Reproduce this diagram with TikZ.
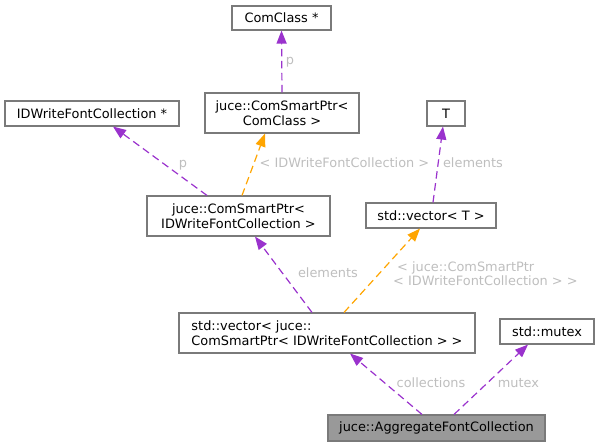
\documentclass[tikz,border=0pt]{standalone}
\usepackage{fontspec}
\setmainfont{DejaVu Sans}
\usetikzlibrary{arrows.meta}
\definecolor{edgepurple}{HTML}{9A32CD}
\definecolor{edgeorange}{HTML}{FFA500}
\definecolor{lblgray}{HTML}{BEBEBE}
\definecolor{boxborder}{HTML}{7A7A7A}
\definecolor{mainfill}{HTML}{999999}
\begin{document}
\begin{tikzpicture}[x=1pt,y=-1pt,
  box/.style={draw=boxborder, fill=white, line width=1.1pt, inner sep=0pt, font=\fontsize{12.9}{14.5}\selectfont, align=center},
  mainbox/.style={box, fill=mainfill},
  rel/.style={draw=edgepurple, dash pattern=on 7.5pt off 4.5pt, line width=1.2pt, -{Triangle[length=13pt,width=10pt]}},
  tmpl/.style={rel, draw=edgeorange},
  lbl/.style={text=lblgray, font=\fontsize{12.9}{14}\selectfont, inner sep=0pt, align=left}]
\useasboundingbox (0,0) rectangle (597,447);
\node[box, minimum width=99pt, minimum height=24pt] (comclass) at (281.5,18) {ComClass *};
\node[box, minimum width=154pt, minimum height=40pt] (cscp) at (282,113) {juce::ComSmartPtr<\\ComClass >};
\node[box, minimum width=174pt, minimum height=25pt] (idw) at (92,113.5) {IDWriteFontCollection *};
\node[box, minimum width=38pt, minimum height=25pt] (t) at (446,113.5) {T};
\node[box, minimum width=183pt, minimum height=40pt] (csid) at (238.5,216) {juce::ComSmartPtr<\\ IDWriteFontCollection >};
\node[box, minimum width=130pt, minimum height=25pt] (vect) at (431,215.5) {std::vector< T >};
\node[box, align=left, minimum width=296pt, minimum height=40pt] (vecj) at (327,333) {std::vector< juce::\\ComSmartPtr< IDWriteFontCollection > >};
\node[box, minimum width=94pt, minimum height=25pt] (mutex) at (547,331.5) {std::mutex};
\node[mainbox, minimum width=217pt, minimum height=26pt] (agg) at (436.5,428) {juce::AggregateFontCollection};
\draw[rel] (cscp.north) -- (comclass.south);
\draw[rel] ([xshift=-31.5pt]csid.north) -- ([xshift=21pt]idw.south);
\draw[tmpl] ([xshift=3.5pt]csid.north) -- ([xshift=-17pt]cscp.south);
\draw[rel] ([xshift=2pt]vect.north) -- ([xshift=-3pt]t.south);
\draw[rel] ([xshift=-15pt]vecj.north) -- ([xshift=16.5pt]csid.south);
\draw[tmpl] ([xshift=17pt]vecj.north) -- ([xshift=-11pt]vect.south);
\draw[rel] ([xshift=-14.5pt]agg.north) -- ([xshift=23pt]vecj.south);
\draw[rel] ([xshift=17.5pt]agg.north) -- ([xshift=-19pt]mutex.south);
\node[lbl] (lp1) at (290,62) {p};
\node[lbl] (lp2) at (183,165) {p};
\node[lbl] (lidw) at (344.5,163) {< IDWriteFontCollection >};
\node[lbl] (lel1) at (473,163) {elements};
\node[lbl] (lel2) at (328,273) {elements};
\node[lbl, anchor=west] (ljuce) at (393,274) {\hspace*{4pt}< juce::ComSmartPtr\\< IDWriteFontCollection > >};
\node[lbl] (lcol) at (431,383) {collections};
\node[lbl] (lmut) at (518.5,383) {mutex};
\end{tikzpicture}
\end{document}
